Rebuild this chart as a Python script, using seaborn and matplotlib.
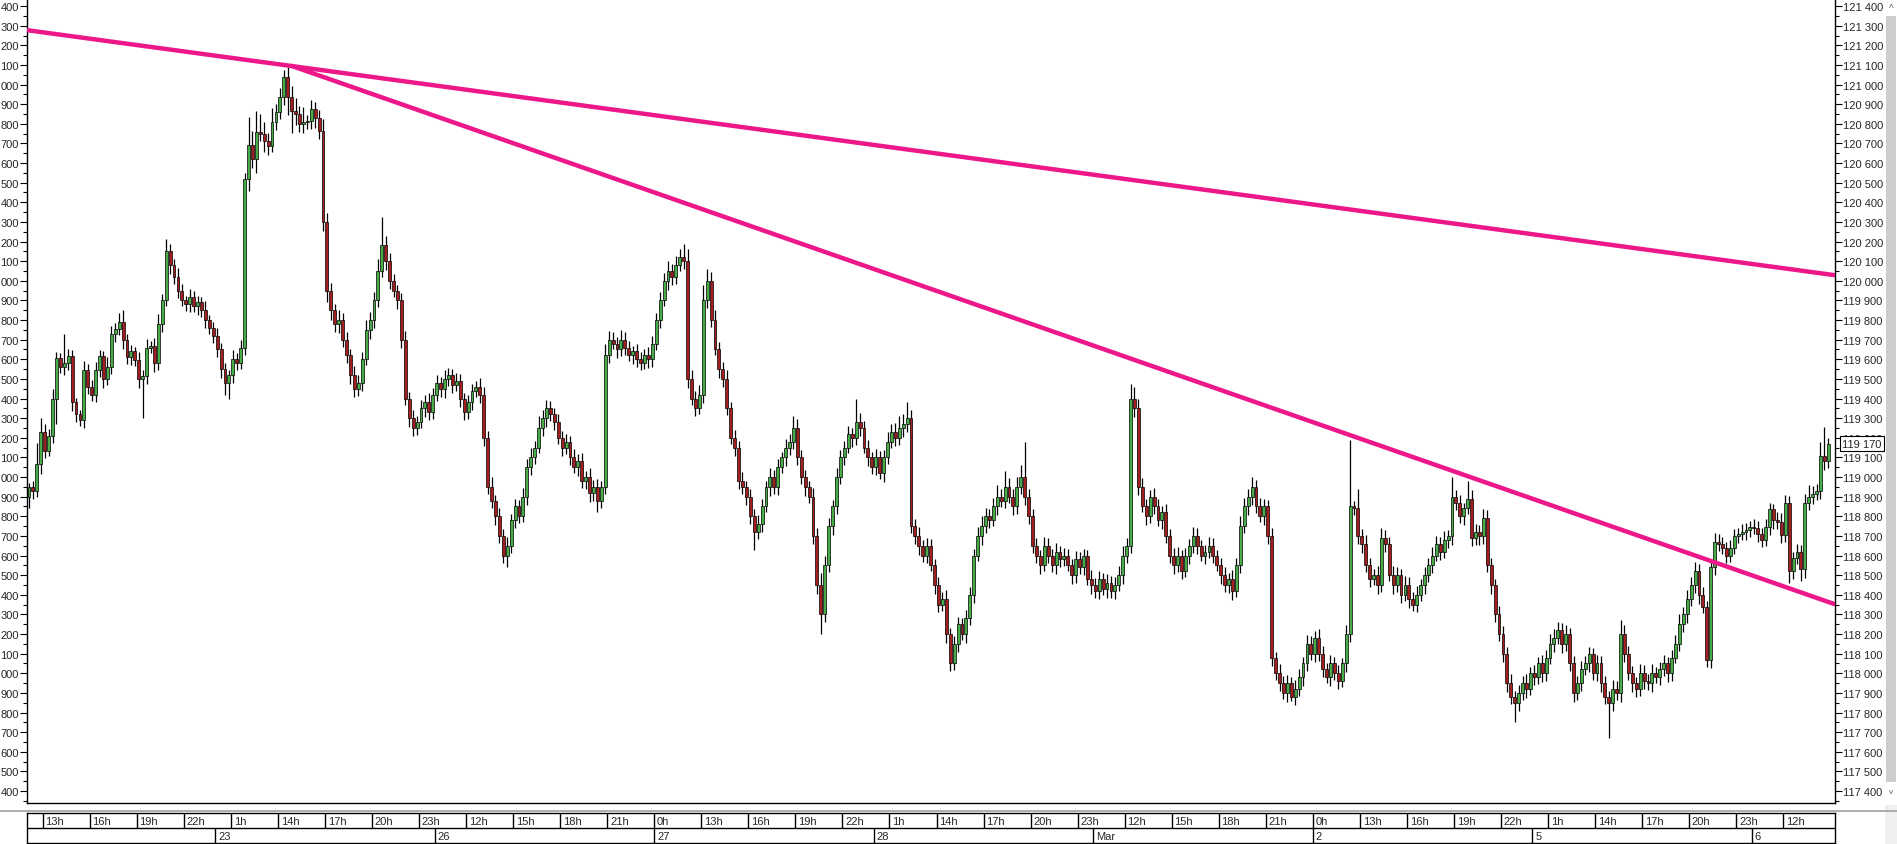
"""
Candlestick chart (15-min bars) with two downward trend lines
"""

import numpy as np
import pandas as pd
import matplotlib.pyplot as plt
import seaborn as sns
from matplotlib.ticker import MultipleLocator, FuncFormatter
from matplotlib.patches import Rectangle
from matplotlib.lines import Line2D

# ---- data -------------------------------------------------------------
first_open = 118900

closes = [
    118950, 118930, 119065, 119230,
    119135, 119210, 119400, 119605, 119560, 119580, 119615, 119380, 119320, 119290, 119545, 119460,
    119420, 119545, 119615, 119500, 119560, 119730, 119755, 119790, 119700, 119610, 119640, 119595,
    119500, 119515, 119660, 119670, 119580, 119780, 119900, 120150, 120080, 120020, 119950, 119900,
    119880, 119920, 119870, 119890, 119850, 119800, 119760, 119720, 119650, 119550, 119480, 119520,
    119600, 119580, 119660, 120520, 120690, 120620, 120760, 120750, 120710, 120685, 120810, 120860,
    120935, 121040, 120935, 120865, 120850, 120800, 120810, 120815, 120875, 120830, 120765, 120300,
    119950, 119850, 119780, 119800, 119700, 119620, 119520, 119450, 119480, 119600, 119750, 119800,
    119900, 120050, 120180, 120100, 120000, 119950, 119900, 119700, 119400, 119300, 119250, 119280,
    119350, 119380, 119330, 119420, 119480, 119450, 119500, 119520, 119470, 119490, 119400, 119330,
    119380, 119440, 119460, 119420, 119200, 118950, 118880, 118800, 118700, 118600, 118650, 118780,
    118850, 118800, 118900, 119050, 119100, 119150, 119250, 119300, 119350, 119320, 119280, 119200,
    119150, 119180, 119100, 119050, 119080, 118980, 119000, 118920, 118950, 118880, 118950, 119620,
    119700, 119680, 119650, 119700, 119660, 119620, 119640, 119600, 119580, 119620, 119600, 119680,
    119800, 119900, 120000, 120050, 120020, 120080, 120120, 120100, 119500, 119400, 119350, 119420,
    119900, 120000, 119800, 119650, 119550, 119500, 119350, 119200, 119150, 118980, 118950, 118900,
    118800, 118720, 118760, 118850, 118950, 119000, 118950, 119050, 119100, 119150, 119180, 119250,
    119100, 119000, 118950, 118900, 118700, 118450, 118300, 118550, 118750, 118850, 119000, 119100,
    119150, 119220, 119200, 119280, 119250, 119150, 119100, 119050, 119100, 119020, 119100, 119180,
    119230, 119200, 119250, 119270, 119300, 118750, 118700, 118650, 118600, 118650, 118550, 118450,
    118350, 118380, 118200, 118050, 118150, 118250, 118200, 118280, 118400, 118600, 118700, 118750,
    118800, 118780, 118850, 118900, 118880, 118950, 118900, 118850, 118950, 119000, 118900, 118800,
    118650, 118600, 118550, 118650, 118600, 118550, 118620, 118580, 118600, 118550, 118500, 118580,
    118540, 118600, 118480, 118450, 118420, 118480, 118430, 118460, 118420, 118450, 118500, 118600,
    118650, 119400, 119350, 118950, 118850, 118800, 118900, 118850, 118780, 118820, 118700, 118600,
    118550, 118600, 118520, 118600, 118650, 118700, 118650, 118600, 118620, 118650, 118600, 118550,
    118500, 118450, 118480, 118420, 118550, 118750, 118850, 118900, 118950, 118850, 118800, 118850,
    118700, 118080, 118000, 117950, 117900, 117950, 117880, 117920, 117980, 118050, 118150, 118100,
    118180, 118100, 118020, 117980, 118050, 118000, 117960, 118050, 118200, 118850, 118840, 118700,
    118660, 118550, 118480, 118500, 118450, 118690, 118660, 118500, 118450, 118500, 118400, 118450,
    118380, 118350, 118400, 118450, 118500, 118550, 118600, 118660, 118620, 118680, 118700, 118900,
    118870, 118800, 118840, 118890, 118690, 118720, 118700, 118790, 118550, 118450, 118300, 118200,
    118100, 117950, 117880, 117850, 117900, 117950, 117920, 118000, 117980, 118050, 118000, 118080,
    118150, 118180, 118220, 118150, 118200, 118050, 117900, 117950, 118020, 118050, 118100, 118000,
    118050, 117950, 117880, 117850, 117920, 117900, 118200, 118100, 118000, 117950, 117920, 118000,
    117960, 117950, 118000, 117980, 118020, 118050, 118000, 118080, 118150, 118250, 118300, 118380,
    118450, 118520, 118400, 118340, 118070, 118540, 118670, 118660, 118640, 118600, 118640, 118700,
    118710, 118720, 118730, 118745, 118740, 118710, 118680, 118745, 118835, 118780, 118770, 118705,
    118870, 118520, 118590, 118620, 118530, 118870, 118900, 118915, 118930, 119105, 119080, 119170,
]

# wick length above / below the body, in points
wick_up = [
    20, 30, 110, 70,
    40, 35, 50, 30, 25, 150, 40, 30, 25, 20, 45, 30,
    35, 40, 30, 25, 50, 40, 30, 45, 60, 30, 35, 25,
    40, 30, 45, 25, 40, 50, 35, 65, 40, 30, 45, 35,
    25, 40, 30, 35, 30, 45, 25, 30, 40, 35, 30, 25,
    45, 30, 40, 30, 145, 75, 105, 90, 60, 45, 70, 40,
    50, 35, 50, 60, 65, 40, 75, 30, 45, 35, 40, 60,
    45, 40, 30, 50, 35, 40, 30, 45, 40, 35, 50, 40,
    45, 60, 145, 50, 40, 35, 30, 40, 45, 35, 40, 30,
    45, 40, 50, 35, 40, 30, 45, 35, 30, 40, 35, 30,
    40, 35, 30, 45, 40, 35, 50, 30, 40, 35, 45, 30,
    40, 35, 45, 40, 50, 35, 60, 40, 45, 35, 30, 40,
    35, 40, 30, 45, 35, 40, 30, 45, 35, 40, 30, 60,
    45, 40, 35, 50, 40, 35, 30, 40, 35, 30, 45, 40,
    35, 45, 40, 50, 35, 45, 40, 70, 60, 45, 40, 50,
    80, 60, 45, 50, 40, 35, 45, 30, 40, 35, 45, 30,
    40, 35, 45, 40, 30, 45, 35, 40, 30, 45, 40, 60,
    45, 40, 35, 30, 45, 40, 60, 50, 40, 35, 45, 40,
    35, 40, 30, 120, 45, 35, 40, 30, 45, 35, 40, 50,
    40, 45, 60, 50, 80, 40, 35, 45, 30, 40, 35, 30,
    40, 35, 45, 30, 40, 35, 30, 45, 40, 35, 45, 50,
    40, 35, 45, 60, 40, 80, 45, 40, 50, 60, 180, 40,
    35, 40, 30, 45, 40, 35, 45, 30, 40, 35, 30, 45,
    40, 35, 30, 45, 35, 40, 30, 45, 35, 40, 45, 50,
    40, 75, 60, 50, 45, 40, 35, 45, 40, 30, 45, 35,
    40, 45, 30, 40, 35, 45, 40, 30, 35, 45, 40, 30,
    35, 40, 30, 45, 40, 50, 45, 40, 50, 35, 45, 40,
    35, 40, 30, 45, 35, 40, 30, 45, 40, 35, 45, 40,
    35, 45, 40, 30, 45, 35, 40, 30, 45, 340, 30, 100,
    35, 45, 40, 30, 45, 50, 40, 35, 45, 40, 30, 45,
    40, 35, 45, 30, 40, 35, 45, 40, 35, 45, 30, 100,
    35, 40, 30, 90, 45, 40, 35, 45, 40, 35, 30, 45,
    40, 35, 45, 30, 40, 35, 45, 30, 40, 35, 45, 40,
    50, 45, 40, 35, 45, 30, 40, 35, 45, 40, 35, 30,
    45, 40, 35, 30, 45, 40, 70, 45, 40, 35, 30, 45,
    40, 35, 45, 30, 40, 45, 35, 40, 45, 50, 40, 45,
    40, 45, 35, 40, 30, 40, 45, 40, 35, 30, 40, 35,
    30, 40, 35, 30, 40, 35, 30, 40, 35, 30, 40, 45,
    40, 35, 30, 40, 35, 45, 60, 40, 35, 75, 150, 30,
]

wick_dn = [
    60, 40, 30, 50,
    40, 30, 35, 130, 30, 40, 35, 45, 40, 30, 40, 35,
    30, 40, 35, 45, 30, 35, 40, 30, 45, 35, 40, 30,
    45, 200, 40, 30, 45, 35, 40, 30, 45, 35, 40, 30,
    35, 40, 30, 45, 35, 40, 30, 35, 40, 45, 60, 80,
    40, 35, 30, 40, 60, 45, 70, 40, 55, 45, 30, 40,
    35, 40, 90, 110, 55, 40, 45, 35, 40, 50, 40, 45,
    60, 50, 40, 45, 35, 40, 45, 40, 35, 40, 30, 45,
    40, 35, 30, 45, 40, 35, 45, 40, 35, 45, 40, 35,
    30, 45, 40, 35, 30, 40, 45, 35, 40, 30, 45, 40,
    35, 40, 30, 45, 40, 35, 40, 45, 35, 40, 60, 35,
    40, 35, 30, 45, 40, 35, 30, 40, 45, 35, 40, 30,
    45, 35, 40, 30, 45, 35, 40, 45, 40, 60, 40, 35,
    40, 30, 45, 35, 40, 30, 45, 40, 35, 30, 45, 40,
    35, 40, 30, 45, 40, 35, 30, 40, 45, 35, 40, 30,
    45, 40, 35, 30, 45, 40, 35, 30, 45, 40, 35, 45,
    40, 90, 35, 40, 30, 45, 35, 40, 30, 45, 40, 35,
    40, 35, 45, 30, 40, 45, 100, 40, 35, 45, 40, 35,
    40, 30, 45, 35, 40, 30, 45, 35, 40, 30, 45, 35,
    30, 40, 35, 45, 40, 35, 40, 45, 35, 40, 30, 45,
    40, 35, 45, 40, 35, 40, 30, 45, 35, 40, 30, 45,
    35, 40, 30, 45, 35, 40, 30, 45, 40, 35, 45, 40,
    35, 40, 45, 30, 40, 35, 45, 40, 35, 30, 45, 40,
    35, 40, 30, 45, 35, 40, 30, 45, 35, 40, 30, 45,
    40, 35, 45, 40, 30, 45, 35, 40, 30, 45, 35, 40,
    45, 35, 40, 30, 45, 35, 40, 30, 45, 35, 40, 30,
    45, 35, 40, 45, 30, 40, 35, 45, 40, 35, 30, 45,
    40, 45, 35, 40, 30, 45, 20, 40, 35, 45, 40, 30,
    45, 35, 40, 30, 45, 35, 40, 30, 45, 40, 35, 40,
    45, 35, 40, 30, 45, 35, 40, 30, 45, 35, 40, 30,
    45, 35, 40, 30, 45, 35, 40, 30, 45, 35, 40, 45,
    40, 35, 45, 30, 40, 35, 45, 40, 35, 45, 40, 35,
    40, 45, 35, 100, 40, 35, 45, 30, 40, 35, 45, 40,
    35, 40, 30, 45, 35, 40, 45, 35, 40, 30, 45, 35,
    40, 45, 35, 180, 40, 35, 45, 40, 35, 45, 40, 35,
    40, 35, 45, 30, 40, 35, 45, 40, 30, 35, 40, 45,
    35, 40, 45, 35, 40, 45, 40, 35, 30, 40, 35, 30,
    35, 30, 40, 35, 30, 40, 35, 30, 40, 45, 35, 40,
    35, 60, 40, 35, 60, 45, 40, 35, 30, 40, 45, 35,
]

# time axis: hour labels every 12 bars, first at bar 4; day labels at bar index
hour_labels = ['13h', '16h', '19h', '22h', '1h', '14h', '17h', '20h', '23h', '12h', '15h',
               '18h', '21h', '0h', '13h', '16h', '19h', '22h', '1h', '14h', '17h', '20h',
               '23h', '12h', '15h', '18h', '21h', '0h', '13h', '16h', '19h', '22h', '1h',
               '14h', '17h', '20h', '23h', '12h']
day_labels = ['23', '26', '27', '28', 'Mar', '2', '5', '6']
day_bars = [48, 104, 160, 216, 272, 328, 384, 440]

# trend lines: (bar, price) anchors
trend_bars = [[-0.8, 460.5], [67, 460.5]]
trend_prices = [[121278, 120029], [121095, 118353]]

last_price = 119170

assert len(closes) == len(wick_up) == len(wick_dn), (len(closes), len(wick_up), len(wick_dn))

# ---- frame -------------------------------------------------------------
df = pd.DataFrame({'close': closes, 'up': wick_up, 'dn': wick_dn})
df['bar'] = np.arange(len(df))
df['open'] = df['close'].shift(1).fillna(first_open)
df['high'] = df[['open', 'close']].max(axis=1) + df['up']
df['low'] = df[['open', 'close']].min(axis=1) - df['dn']
rising = df['close'] >= df['open']

sns.set_theme(style="white")
plt.rcParams['font.family'] = ['Liberation Sans', 'DejaVu Sans']

W, H = 1897, 845
fig = plt.figure(figsize=(W / 100, H / 100), dpi=100)
fig.patch.set_facecolor('white')

GREEN = '#46ad46'
RED = '#a31f1f'
PINK = '#ec1789'
FS = 8

ax = fig.add_axes([27 / W, 41 / H, (1835 - 27) / W, 804 / H])
ax.set_facecolor('white')

# wicks and bodies
ax.vlines(df['bar'], df['low'], df['high'], color='black', lw=0.9, zorder=2)
for mask, col in [(rising, GREEN), (~rising, RED)]:
    sub = df[mask]
    h = (sub['close'] - sub['open']).abs().clip(lower=4)
    ax.bar(sub['bar'], h, bottom=sub[['open', 'close']].min(axis=1), width=0.74,
           color=col, edgecolor='black', linewidth=0.5, zorder=3)

# trend lines
for bx, py in zip(trend_bars, trend_prices):
    sns.lineplot(x=bx, y=py, color=PINK, lw=3.2, ax=ax, zorder=4)

ax.set_xlim(-0.51, 460.7)
ax.set_ylim(117339, 121436)
ax.set_xticks([])
ax.set_xlabel('')
ax.set_ylabel('')

for s in ['left', 'right', 'bottom']:
    ax.spines[s].set_color('black')
    ax.spines[s].set_linewidth(1)
ax.spines['top'].set_visible(False)

# left axis: last three digits only
ax.yaxis.set_major_locator(MultipleLocator(100))
ax.yaxis.set_minor_locator(MultipleLocator(50))
ax.yaxis.set_major_formatter(FuncFormatter(lambda v, p: f"{int(round(v)) % 1000:03d}"))
ax.tick_params(axis='y', which='major', direction='out', length=5, width=0.8,
               color='black', labelsize=FS, pad=1, left=True)
ax.tick_params(axis='y', which='minor', direction='out', length=3, width=0.8,
               color='black', left=True)

# right axis
ax2 = ax.twinx()
ax2.set_ylim(ax.get_ylim())
ax2.yaxis.set_major_locator(MultipleLocator(100))
ax2.yaxis.set_minor_locator(MultipleLocator(50))
ax2.yaxis.set_major_formatter(
    FuncFormatter(lambda v, p: f"{int(round(v)) // 1000} {int(round(v)) % 1000:03d}"))
ax2.tick_params(axis='y', which='major', direction='out', length=5, width=0.8,
                color='black', labelsize=FS, pad=1, right=True)
ax2.tick_params(axis='y', which='minor', direction='out', length=3, width=0.8,
                color='black', right=True)
ax2.grid(False)
for s in ax2.spines.values():
    s.set_visible(False)

ax2.annotate(f"{last_price // 1000} {last_price % 1000:03d}", xy=(1.0, last_price),
             xycoords=('axes fraction', 'data'), xytext=(5, 0), textcoords='offset points',
             ha='left', va='center', fontsize=FS, zorder=10,
             bbox=dict(boxstyle='square,pad=0.2', fc='white', ec='black', lw=0.8))

# scroll bar on the right
fig.patches.append(Rectangle((1885 / W, 0), 12 / W, 1 - 806 / H, transform=fig.transFigure,
                             fc='#f0f0f0', ec='none'))
fig.patches.append(Rectangle((1886 / W, 1 - 783 / H), 10 / W, (783 - 17) / H,
                             transform=fig.transFigure, fc='#cdcdcd', ec='none'))
fig.text(1891 / W, 1 - 9 / H, '^', ha='center', va='center', fontsize=7, color='#606060')
fig.text(1891 / W, 1 - 793 / H, 'v', ha='center', va='center', fontsize=6, color='#606060')

# separator line above time axis
fig.add_artist(Line2D([0, 1], [1 - 812 / H] * 2, color='#a0a0a0', lw=1.2,
                      transform=fig.transFigure))

# time axis strip
ax3 = fig.add_axes([27 / W, 1 / H, (1835 - 27) / W, 30 / H])
ax3.set_xlim(ax.get_xlim())
ax3.set_ylim(0, 2)
ax3.set_xticks([])
ax3.set_yticks([])
ax3.set_facecolor('white')
for s in ax3.spines.values():
    s.set_color('black')
    s.set_linewidth(1)
ax3.axhline(1, color='black', lw=1)
hour_bars = 4 + 12 * np.arange(len(hour_labels))
ax3.vlines(hour_bars - 0.5, 1, 2, color='black', lw=1)
for b, lab in zip(hour_bars, hour_labels):
    ax3.text(b - 0.5 + 0.7, 1.48, lab, ha='left', va='center', fontsize=FS)
ax3.vlines(np.array(day_bars) - 0.5, 0, 1, color='black', lw=1)
for b, lab in zip(day_bars, day_labels):
    ax3.text(b - 0.5 + 0.7, 0.48, lab, ha='left', va='center', fontsize=FS)

plt.savefig('out.png', dpi=100)
print("Saved out.png")
